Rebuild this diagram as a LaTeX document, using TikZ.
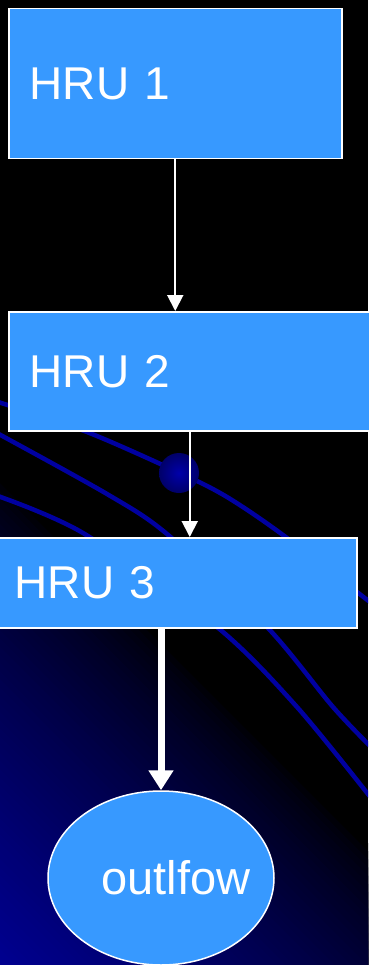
\documentclass[tikz,border=0pt]{standalone}
\usepackage{fontspec}
\setmainfont{Liberation Sans}
\usetikzlibrary{arrows.meta, positioning, shapes.geometric, shadings}
\definecolor{hrublue}{RGB}{55,153,255}
\definecolor{deepblue}{RGB}{0,0,145}
\definecolor{swirl}{RGB}{0,0,160}
\definecolor{knobin}{RGB}{0,0,170}
\definecolor{knobout}{RGB}{0,0,105}
\tikzset{
  hru/.style = {
    draw=white,
    line width=1.5pt,
    fill=hrublue,
    text=white,
    rectangle,
    align=left,
    anchor=north west,
    font=\fontsize{46}{50}\selectfont,
  },
  outlet/.style = {
    draw=white,
    line width=1.5pt,
    fill=hrublue,
    ellipse,
    inner sep=0pt,
    minimum width=226pt,
    minimum height=174pt,
  },
  flow/.style = {
    draw=white,
    line width=2pt,
    -{Triangle[width=16pt, length=16pt]},
  },
  bigflow/.style = {
    draw=white,
    line width=7pt,
    -{Triangle[width=24pt, length=20pt]},
  },
  swirlline/.style = {
    draw=swirl,
    line width=4.5pt,
  },
}

\begin{document}
\begin{tikzpicture}[x=1pt, y=-1pt]
\useasboundingbox (0,0) rectangle (368,965);

% background: black with a blue glow from the lower left corner
\begin{scope}
\clip (0,0) rectangle (368,965);
\fill[black] (0,0) rectangle (368,965);
\foreach \k in {0,...,59}{
  \pgfmathsetmacro\glow{100*(\k/60)^0.7}
  \pgfmathsetmacro\leg{490*(1-\k/60)}
  \fill[deepblue!\glow!black] (0,965) -- (0,{965-\leg}) -- (\leg,965) -- cycle;
}
\draw[swirlline] plot[smooth] coordinates
  {(-5,401) (87,432) (180,473) (227,497) (283,535) (375,606)};
\draw[swirlline] plot[smooth] coordinates
  {(-5,432) (107,494) (167,534) (267,627) (333,707) (375,751)};
\draw[swirlline] plot[smooth] coordinates
  {(-5,495) (83,533) (217,627) (297,707) (375,803)};
\shade[inner color=knobin, outer color=knobout] (179,473) circle (20);
\end{scope}

% hydrologic response units
\node[hru, text width=291pt, inner xsep=21pt, minimum height=150pt]
  (hru1) at (8,8) {HRU 1};
\node[hru, text width=340pt, inner xsep=21pt, minimum height=119pt]
  (hru2) at (8,311) {HRU 2};
\node[hru, text width=322pt, inner xsep=20pt, minimum height=90pt]
  (hru3) at (-6,537) {HRU 3};

% outlet
\node[outlet, label={[text=white, xshift=15pt,
  font=\fontsize{47}{50}\selectfont]center:outlfow}]
  (outflow) at (161,878) {};

% routing
\draw[flow] (hru1.south) -- (hru1.south |- hru2.north);
\draw[flow] ([xshift=-10pt]hru2.south) -- ([xshift=-10pt]hru2.south |- hru3.north);
\draw[bigflow] (hru3.south -| outflow.north) -- (outflow.north);

\end{tikzpicture}
\end{document}
